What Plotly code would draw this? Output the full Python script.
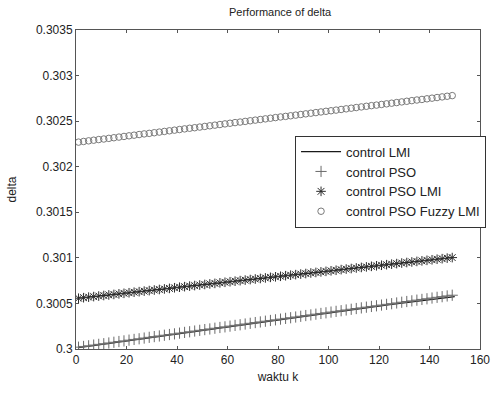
import plotly.graph_objects as go

# ---- data ----
k_line = [1, 25, 50, 75, 100, 125, 150]
lmi = [0.300014, 0.300106, 0.300202, 0.300298, 0.300393, 0.300488, 0.300575]

k_mark = list(range(1, 151, 2))

pso = [0.300020, 0.300028, 0.300035, 0.300043, 0.300051, 0.300058, 0.300066, 0.300074,
       0.300082, 0.300089, 0.300097, 0.300105, 0.300112, 0.300120, 0.300128, 0.300136,
       0.300143, 0.300151, 0.300159, 0.300166, 0.300174, 0.300182, 0.300189, 0.300197,
       0.300205, 0.300213, 0.300220, 0.300228, 0.300236, 0.300243, 0.300251, 0.300259,
       0.300266, 0.300274, 0.300282, 0.300290, 0.300297, 0.300305, 0.300313, 0.300320,
       0.300328, 0.300336, 0.300343, 0.300351, 0.300359, 0.300367, 0.300374, 0.300382,
       0.300390, 0.300397, 0.300405, 0.300413, 0.300420, 0.300428, 0.300436, 0.300444,
       0.300451, 0.300459, 0.300467, 0.300474, 0.300482, 0.300490, 0.300497, 0.300505,
       0.300513, 0.300521, 0.300528, 0.300536, 0.300544, 0.300551, 0.300559, 0.300567,
       0.300574, 0.300582, 0.300590]

pso_lmi = [0.300557, 0.300563, 0.300569, 0.300575, 0.300581, 0.300587, 0.300593, 0.300599,
           0.300605, 0.300611, 0.300617, 0.300623, 0.300629, 0.300635, 0.300641, 0.300647,
           0.300653, 0.300659, 0.300665, 0.300672, 0.300678, 0.300684, 0.300690, 0.300696,
           0.300702, 0.300708, 0.300714, 0.300720, 0.300726, 0.300732, 0.300738, 0.300744,
           0.300750, 0.300756, 0.300762, 0.300768, 0.300774, 0.300780, 0.300786, 0.300792,
           0.300798, 0.300804, 0.300810, 0.300816, 0.300822, 0.300828, 0.300834, 0.300840,
           0.300846, 0.300852, 0.300858, 0.300864, 0.300871, 0.300877, 0.300883, 0.300889,
           0.300895, 0.300901, 0.300907, 0.300913, 0.300919, 0.300925, 0.300931, 0.300937,
           0.300943, 0.300949, 0.300955, 0.300961, 0.300967, 0.300973, 0.300979, 0.300985,
           0.300991, 0.300997, 0.301003]

pso_fuzzy = [0.302270, 0.302277, 0.302284, 0.302291, 0.302298, 0.302304, 0.302311, 0.302318,
             0.302325, 0.302332, 0.302339, 0.302346, 0.302353, 0.302360, 0.302366, 0.302373,
             0.302380, 0.302387, 0.302394, 0.302401, 0.302408, 0.302415, 0.302422, 0.302428,
             0.302435, 0.302442, 0.302449, 0.302456, 0.302463, 0.302470, 0.302477, 0.302484,
             0.302490, 0.302497, 0.302504, 0.302511, 0.302518, 0.302525, 0.302532, 0.302539,
             0.302546, 0.302552, 0.302559, 0.302566, 0.302573, 0.302580, 0.302587, 0.302594,
             0.302601, 0.302608, 0.302614, 0.302621, 0.302628, 0.302635, 0.302642, 0.302649,
             0.302656, 0.302663, 0.302670, 0.302676, 0.302683, 0.302690, 0.302697, 0.302704,
             0.302711, 0.302718, 0.302725, 0.302732, 0.302738, 0.302745, 0.302752, 0.302759,
             0.302766, 0.302773, 0.302780]

x_ticks = [0, 20, 40, 60, 80, 100, 120, 140, 160]
y_ticks = [0.3, 0.3005, 0.301, 0.3015, 0.302, 0.3025, 0.303, 0.3035]
y_tick_text = ["0.3", "0.3005", "0.301", "0.3015", "0.302", "0.3025", "0.303", "0.3035"]

FONT = "Liberation Sans, Arial, sans-serif"
TXT = "#222222"

fig = go.Figure()
fig.add_trace(go.Scatter(x=k_line, y=lmi, mode="lines", name="control LMI",
                         line=dict(color="#1a1a1a", width=1.2)))
fig.add_trace(go.Scatter(x=k_mark, y=pso, mode="markers", name="control PSO",
                         marker=dict(symbol="cross-thin-open", size=8, color="#6a6a6a",
                                     line=dict(color="#6a6a6a", width=1))))
fig.add_trace(go.Scatter(x=k_mark, y=pso_lmi, mode="markers", name="control PSO LMI",
                         marker=dict(symbol="asterisk-open", size=8, color="#2a2a2a",
                                     line=dict(color="#2a2a2a", width=1))))
fig.add_trace(go.Scatter(x=k_mark, y=pso_fuzzy, mode="markers", name="control PSO Fuzzy LMI",
                         marker=dict(symbol="circle-open", size=6.5, color="#7a7a7a",
                                     line=dict(color="#7a7a7a", width=1))))

axis_common = dict(showline=True, linecolor="#555555", linewidth=1, mirror="ticks",
                   ticks="inside", ticklen=3, tickcolor="#555555", showgrid=False,
                   zeroline=False, tickfont=dict(family=FONT, size=12, color=TXT))

fig.update_layout(
    width=501, height=393,
    margin=dict(l=75, r=11, t=30, b=37),
    paper_bgcolor="white", plot_bgcolor="white",
    font=dict(family=FONT, size=12, color=TXT),
    title=dict(text="Performance of delta", x=0.559, xanchor="center",
               y=1 - 12 / 393, yanchor="middle",
               font=dict(family=FONT, size=11, color=TXT)),
    xaxis=dict(range=[0, 160], tickvals=x_ticks,
               title=dict(text="waktu k", standoff=6,
                          font=dict(family=FONT, size=12, color=TXT)),
               **axis_common),
    yaxis=dict(range=[0.3, 0.3035], tickvals=y_ticks, ticktext=y_tick_text,
               title=dict(text="delta", standoff=16,
                          font=dict(family=FONT, size=12, color=TXT)),
               **axis_common),
    legend=dict(x=(300 - 75) / 415, y=0.669, xanchor="left", yanchor="top",
                bordercolor="#333333", borderwidth=1, bgcolor="white",
                font=dict(family=FONT, size=13, color=TXT),
                tracegroupgap=0, itemwidth=40),
    showlegend=True,
)

fig.write_html("out.html")
